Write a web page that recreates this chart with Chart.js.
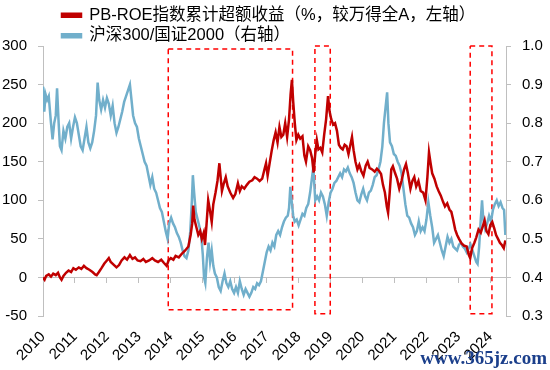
<!DOCTYPE html>
<html>
<head>
<meta charset="utf-8">
<script src="https://cdn.jsdelivr.net/npm/chart.js@4.4.1/dist/chart.umd.min.js"></script>
<style>
  html, body { margin: 0; padding: 0; background: #fff; }
  #wrap { position: relative; width: 550px; height: 370px; }
</style>
</head>
<body>
<div id="wrap"><canvas id="graph"></canvas></div>
<script>
// données
var seriesNames = ['PB-ROE指数累计超额收益（%，较万得全A，左轴）', '沪深300/国证2000（右轴）'];
var yearTicks = [2010, 2011, 2012, 2013, 2014, 2015, 2016, 2017, 2018, 2019, 2020, 2021, 2022, 2023, 2024];

// PB-ROE (axe gauche, %)
var redYears = [2010.00,2010.05,2010.10,2010.18,2010.25,2010.32,2010.40,2010.47,2010.53,2010.58,2010.64,2010.72,2010.80,2010.88,2010.95,
  2011.03,2011.12,2011.20,2011.28,2011.36,2011.45,2011.55,2011.63,2011.68,2011.75,2011.83,2011.92,
  2012.00,2012.06,2012.12,2012.20,2012.30,2012.38,2012.46,2012.55,2012.63,2012.72,2012.80,2012.88,2012.96,
  2013.05,2013.14,2013.22,2013.32,2013.42,2013.50,2013.60,2013.70,2013.78,2013.87,2013.93,
  2014.00,2014.08,2014.15,2014.25,2014.35,2014.45,2014.55,2014.62,2014.67,2014.70,2014.74,2014.80,2014.86,2014.92,2014.97,
  2015.03,2015.07,2015.12,2015.17,2015.22,2015.28,2015.33,2015.40,2015.46,2015.52,2015.56,2015.60,2015.66,2015.72,2015.78,2015.86,2015.95,
  2016.02,2016.10,2016.16,2016.22,2016.30,2016.38,2016.46,2016.55,2016.62,2016.70,2016.78,2016.86,2016.93,2016.98,
  2017.03,2017.10,2017.16,2017.22,2017.28,2017.34,2017.40,2017.46,2017.52,2017.58,2017.64,2017.70,2017.75,2017.79,2017.83,2017.88,2017.93,2017.99,
  2018.05,2018.12,2018.18,2018.23,2018.30,2018.36,2018.42,2018.47,2018.52,2018.57,2018.62,2018.68,2018.74,2018.80,2018.86,2018.92,2018.97,
  2019.02,2019.08,2019.14,2019.20,2019.26,2019.32,2019.38,2019.44,2019.50,2019.56,2019.62,2019.67,2019.72,2019.78,2019.84,2019.90,2019.96,
  2020.03,2020.10,2020.16,2020.22,2020.30,2020.38,2020.45,2020.52,2020.58,2020.64,2020.70,2020.76,2020.80,2020.85,2020.90,2020.95,
  2021.02,2021.08,2021.15,2021.22,2021.30,2021.36,2021.42,2021.50,2021.56,2021.62,2021.68,2021.75,2021.82,2021.90,2021.97,
  2022.03,2022.08,2022.13,2022.18,2022.25,2022.32,2022.38,2022.45,2022.52,2022.58,2022.65,2022.72,2022.78,2022.84,2022.90,2022.96,
  2023.02,2023.10,2023.18,2023.26,2023.32,2023.37,2023.43,2023.50,2023.56,2023.63,2023.70,2023.76,2023.82,2023.88,2023.94,
  2024.00,2024.06,2024.12,2024.18,2024.24,2024.30,2024.36,2024.42,2024.47];
var redValues = [0,-3,2,4,1,5,3,6,0,-3,2,6,9,7,12,
  10,13,11,15,12,10,7,4,3,7,12,18,
  22,25,20,17,13,16,22,26,23,29,24,26,22,
  21,24,20,22,25,22,20,23,19,15,22,
  25,23,28,26,31,35,40,55,70,93,75,65,55,60,50,
  58,42,70,100,88,72,95,110,125,148,130,112,122,130,118,110,103,
  108,122,112,118,115,120,124,126,130,128,125,128,140,148,
  132,150,165,178,188,175,195,182,185,200,182,205,238,256,228,200,178,185,
  180,183,158,150,170,165,155,136,160,178,166,168,162,185,205,235,215,
  205,198,200,190,172,168,166,172,170,160,172,182,165,150,140,146,138,
  132,145,150,142,140,137,141,138,134,120,110,92,84,110,140,144,
  135,128,115,125,140,147,135,115,125,130,118,125,112,110,100,
  130,162,148,135,128,118,112,106,98,92,96,88,85,74,62,55,
  50,44,41,40,30,25,38,45,52,62,58,66,74,60,56,
  68,72,64,55,50,45,42,38,48];

// 沪深300/国证2000 (axe droit)
var blueYears = [2010.00,2010.04,2010.08,2010.13,2010.18,2010.25,2010.30,2010.35,2010.40,2010.44,2010.49,2010.53,2010.58,2010.64,2010.70,2010.76,2010.82,2010.88,2010.94,
  2011.00,2011.06,2011.12,2011.18,2011.24,2011.30,2011.36,2011.42,2011.48,2011.54,2011.60,2011.66,2011.71,2011.76,2011.82,2011.88,2011.94,
  2012.00,2012.06,2012.12,2012.18,2012.24,2012.30,2012.36,2012.42,2012.48,2012.54,2012.60,2012.66,2012.72,2012.77,2012.82,2012.88,2012.94,
  2013.00,2013.06,2013.12,2013.18,2013.24,2013.30,2013.36,2013.42,2013.48,2013.54,2013.60,2013.66,2013.72,2013.78,2013.84,2013.90,2013.95,
  2014.01,2014.07,2014.13,2014.19,2014.25,2014.31,2014.37,2014.43,2014.49,2014.55,2014.61,2014.66,2014.69,2014.73,2014.78,2014.84,2014.90,2014.96,
  2015.00,2015.04,2015.08,2015.13,2015.18,2015.23,2015.28,2015.33,2015.38,2015.44,2015.50,2015.56,2015.62,2015.68,2015.74,2015.80,2015.86,2015.92,2015.98,
  2016.04,2016.10,2016.16,2016.22,2016.28,2016.34,2016.40,2016.46,2016.52,2016.58,2016.64,2016.70,2016.76,2016.82,2016.88,2016.94,
  2017.00,2017.06,2017.12,2017.18,2017.24,2017.30,2017.36,2017.42,2017.48,2017.54,2017.60,2017.66,2017.70,2017.74,2017.78,2017.83,2017.88,2017.94,
  2018.00,2018.06,2018.12,2018.18,2018.24,2018.30,2018.36,2018.42,2018.46,2018.52,2018.58,2018.64,2018.70,2018.76,2018.82,2018.88,2018.94,
  2019.00,2019.06,2019.12,2019.18,2019.24,2019.30,2019.36,2019.42,2019.48,2019.54,2019.60,2019.66,2019.72,2019.78,2019.84,2019.90,2019.96,
  2020.02,2020.08,2020.14,2020.20,2020.26,2020.32,2020.38,2020.44,2020.50,2020.56,2020.62,2020.67,2020.72,2020.77,2020.81,2020.86,2020.92,2020.98,
  2021.04,2021.10,2021.16,2021.22,2021.28,2021.34,2021.40,2021.46,2021.52,2021.58,2021.64,2021.70,2021.76,2021.82,2021.88,2021.94,
  2022.00,2022.06,2022.12,2022.18,2022.24,2022.30,2022.36,2022.42,2022.48,2022.54,2022.60,2022.66,2022.72,2022.78,2022.84,2022.90,2022.96,
  2023.02,2023.08,2023.14,2023.20,2023.26,2023.32,2023.38,2023.44,2023.50,2023.56,2023.60,2023.65,2023.70,2023.74,2023.78,2023.84,2023.90,2023.96,
  2024.02,2024.08,2024.14,2024.20,2024.26,2024.32,2024.38,2024.43,2024.47];
var blueValues = [0.895,0.83,0.875,0.86,0.87,0.80,0.758,0.80,0.82,0.89,0.80,0.74,0.73,0.78,0.76,0.79,0.80,0.76,0.79,
  0.815,0.80,0.77,0.74,0.73,0.76,0.79,0.75,0.735,0.75,0.78,0.82,0.905,0.86,0.835,0.86,0.84,
  0.865,0.85,0.82,0.845,0.80,0.775,0.79,0.81,0.83,0.855,0.87,0.885,0.90,0.86,0.82,0.80,0.79,
  0.76,0.74,0.72,0.70,0.69,0.665,0.64,0.66,0.63,0.62,0.60,0.58,0.57,0.545,0.52,0.50,0.54,
  0.555,0.54,0.53,0.515,0.505,0.49,0.47,0.455,0.45,0.47,0.52,0.60,0.665,0.62,0.57,0.55,0.53,0.50,
  0.46,0.40,0.385,0.45,0.49,0.44,0.47,0.43,0.41,0.40,0.375,0.365,0.39,0.41,0.385,0.375,0.39,0.37,0.36,
  0.375,0.36,0.39,0.37,0.355,0.37,0.36,0.35,0.36,0.375,0.37,0.385,0.38,0.39,0.415,0.44,
  0.465,0.48,0.47,0.49,0.48,0.51,0.52,0.51,0.53,0.545,0.555,0.56,0.58,0.635,0.60,0.56,0.545,0.55,
  0.535,0.55,0.565,0.56,0.58,0.59,0.62,0.66,0.685,0.60,0.61,0.60,0.62,0.61,0.59,0.56,0.595,
  0.62,0.63,0.645,0.65,0.66,0.67,0.66,0.68,0.675,0.685,0.67,0.66,0.645,0.62,0.60,0.595,0.615,
  0.63,0.61,0.60,0.62,0.625,0.64,0.66,0.665,0.68,0.70,0.74,0.80,0.84,0.88,0.80,0.75,0.74,0.72,
  0.715,0.70,0.69,0.67,0.63,0.59,0.56,0.555,0.54,0.53,0.51,0.52,0.545,0.52,0.53,0.52,
  0.55,0.595,0.56,0.53,0.49,0.50,0.51,0.49,0.47,0.455,0.48,0.505,0.49,0.50,0.48,0.475,0.47,
  0.485,0.49,0.48,0.475,0.465,0.475,0.485,0.47,0.455,0.44,0.435,0.48,0.55,0.60,0.55,0.525,0.54,0.56,
  0.545,0.575,0.59,0.60,0.585,0.595,0.58,0.575,0.51];

// cadres rouges pointillés (unités des axes : années / axe gauche)
var boxStart = [2013.92, 2018.51, 2023.37];
var boxEnd = [2017.81, 2018.99, 2024.05];
var boxTop = [296, 300, 300];
var boxBottom = [-42, -47, -47];

var red = '#C00000';
var blue = '#71AFCB';
var axisGrey = '#BFBFBF';

Chart.defaults.font.family = '"Liberation Sans", Arial, sans-serif';
Chart.defaults.font.size = 15;
Chart.defaults.color = '#000';

var datasets = [
  {
    label: seriesNames[0],
    data: redYears.map(function (t, i) { return { x: t, y: redValues[i] }; }),
    borderColor: red, backgroundColor: red, borderWidth: 2.5,
    pointRadius: 0, xAxisID: 'x', yAxisID: 'y'
  },
  {
    label: seriesNames[1],
    data: blueYears.map(function (t, i) { return { x: t, y: blueValues[i] }; }),
    borderColor: blue, backgroundColor: blue, borderWidth: 2.5,
    pointRadius: 0, xAxisID: 'x', yAxisID: 'y1'
  }
];

// les cadres sont des lignes fermées sur les mêmes échelles
for (let b = 0; b < boxStart.length; b++) {
  datasets.push({
    label: 'box' + b,
    data: [
      { x: boxStart[b], y: boxTop[b] },
      { x: boxEnd[b], y: boxTop[b] },
      { x: boxEnd[b], y: boxBottom[b] },
      { x: boxStart[b], y: boxBottom[b] },
      { x: boxStart[b], y: boxTop[b] }
    ],
    borderColor: '#FF0000', borderWidth: 1.5, borderDash: [5, 4],
    pointRadius: 0, xAxisID: 'x', yAxisID: 'y', clip: false
  });
}

// place la légende comme sur l'original (décalée à droite et vers le bas)
const legendShift = {
  id: 'legendShift',
  afterLayout(chart) {
    chart.legend.left = 58;
    chart.legend.top += 8;
  }
};

// filigrane du site
const watermark = {
  id: 'watermark',
  afterDraw(chart) {
    const ctx = chart.ctx;
    ctx.save();
    ctx.font = 'bold 19px "Liberation Serif", serif';
    ctx.fillStyle = '#1B3F8B';
    ctx.textAlign = 'right';
    ctx.textBaseline = 'alphabetic';
    ctx.fillText('www.365jz.com', 547, 364);
    ctx.restore();
  }
};

var setYearTicks = function (scale) {
  scale.ticks = yearTicks.map(function (v) { return { value: v }; });
};

var graph = new Chart(document.getElementById('graph'), {
  type: 'line',
  data: { datasets: datasets },
  plugins: [legendShift, watermark],
  options: {
    responsive: true,
    maintainAspectRatio: false,
    animation: false,
    layout: { padding: { left: 2, right: 7, top: -5, bottom: 5 } },
    elements: { line: { tension: 0 } },
    plugins: {
      tooltip: { enabled: false },
      legend: {
        position: 'top',
        align: 'start',
        labels: {
          filter: function (item) { return item.datasetIndex < 2; },
          boxWidth: 19,
          boxHeight: 3,
          padding: 4,
          font: { size: 16.5, family: '"Liberation Sans", "Noto Sans CJK SC", sans-serif' },
          color: '#000'
        }
      }
    },
    scales: {
      x: {
        type: 'linear',
        position: { y: 0 },
        min: 2010,
        max: 2024.49,
        afterBuildTicks: setYearTicks,
        grid: { drawOnChartArea: false, drawTicks: true, tickLength: 5, color: axisGrey },
        border: { color: axisGrey },
        ticks: { display: false }
      },
      x2: {
        type: 'linear',
        position: 'bottom',
        min: 2010,
        max: 2024.49,
        afterBuildTicks: setYearTicks,
        afterFit: function (scale) {
          scale.paddingLeft = 0;
          scale.paddingRight = 0;
          scale.height = 49;
        },
        grid: { display: false, drawTicks: false },
        border: { display: false },
        ticks: {
          minRotation: 45, maxRotation: 45, padding: 12,
          callback: function (v) { return String(v); }
        }
      },
      y: {
        position: 'left',
        min: -50,
        max: 300,
        afterFit: function (scale) { scale.width = 41; },
        ticks: { stepSize: 50, padding: 11 },
        grid: { drawOnChartArea: false, drawTicks: true, tickLength: 5, color: axisGrey },
        border: { color: axisGrey }
      },
      y1: {
        position: 'right',
        min: 0.3,
        max: 1.0,
        afterFit: function (scale) { scale.width = 37; },
        ticks: { stepSize: 0.1, padding: 11, callback: function (v) { return v.toFixed(1); } },
        grid: { drawOnChartArea: false, drawTicks: true, tickLength: 5, color: axisGrey },
        border: { color: axisGrey }
      }
    }
  }
});
</script>
</body>
</html>
